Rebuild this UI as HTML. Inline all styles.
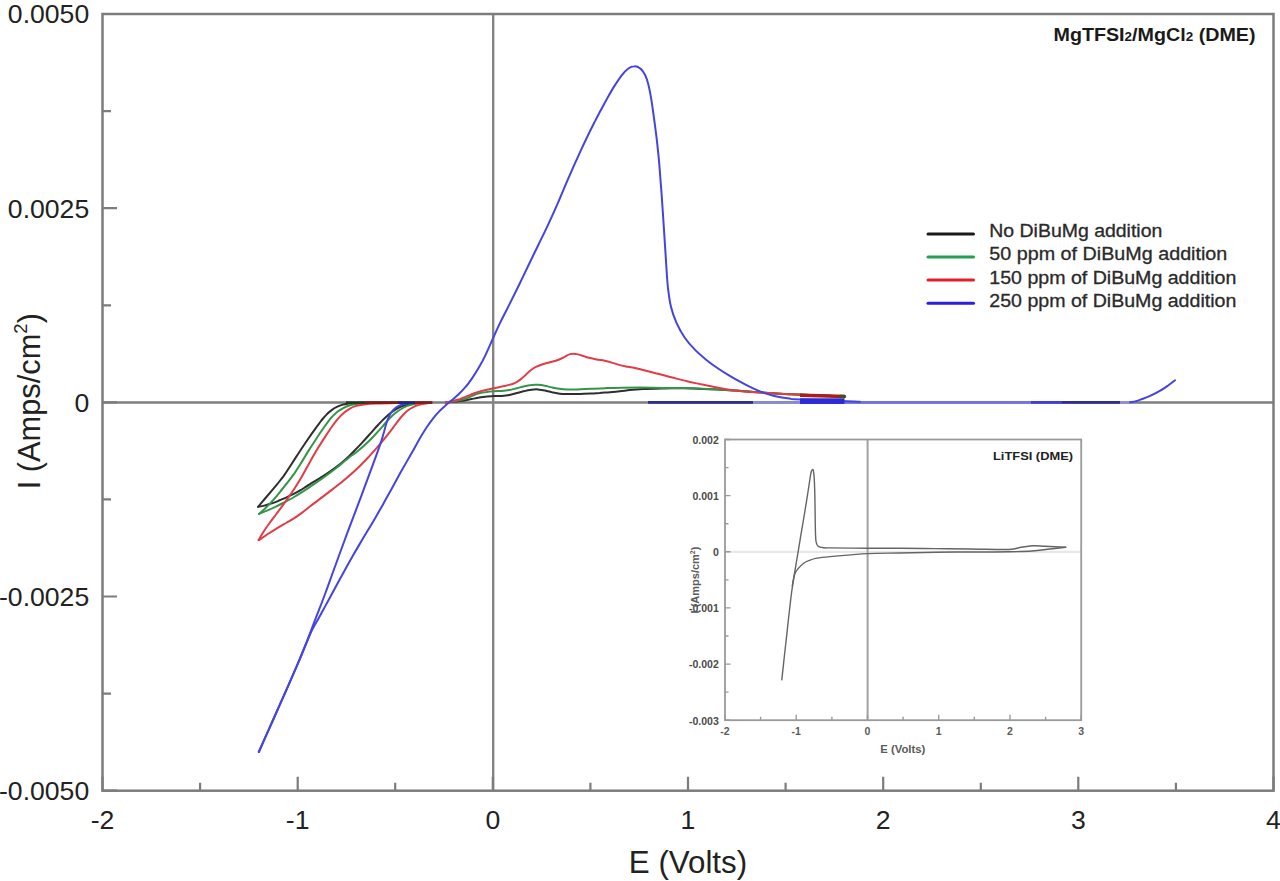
<!DOCTYPE html>
<html><head><meta charset="utf-8"><title>Cyclic voltammetry</title>
<style>html,body{margin:0;padding:0;background:#fff;}body{width:1280px;height:881px;overflow:hidden;}svg{display:block;}</style>
</head><body>
<svg width="1280" height="881" viewBox="0 0 1280 881">
<rect x="0" y="0" width="1280" height="881" fill="#fff"/>
<line x1="102.5" y1="402.5" x2="1273.5" y2="402.5" stroke="#7e7e7e" stroke-width="2.4"/>
<line x1="493.2" y1="14.0" x2="493.2" y2="790.7" stroke="#848484" stroke-width="2.4"/>
<line x1="648" y1="402.4" x2="753" y2="402.4" stroke="#2e2e90" stroke-width="2.8"/>
<line x1="753" y1="402.4" x2="800" y2="402.4" stroke="#8a8ad0" stroke-width="2.8"/>
<line x1="800" y1="402.4" x2="844" y2="402.4" stroke="#2a2ae0" stroke-width="2.8"/>
<line x1="844" y1="402.4" x2="1031" y2="402.4" stroke="#7272e6" stroke-width="2.8"/>
<line x1="1031" y1="402.4" x2="1062" y2="402.4" stroke="#3c3ce2" stroke-width="2.8"/>
<line x1="1062" y1="402.4" x2="1120" y2="402.4" stroke="#2e2e90" stroke-width="2.8"/>
<line x1="1120" y1="402.4" x2="1136" y2="402.4" stroke="#9090d4" stroke-width="2.8"/>
<path d="M258.1,506.8 C259.3,505.4 262.8,501.2 265.1,498.5 C267.4,495.8 269.6,493.2 271.8,490.6 C273.9,488.1 275.9,485.7 277.9,483.3 C279.8,480.9 281.4,478.9 283.4,476.3 C285.3,473.6 287.1,470.9 289.5,467.2 C291.9,463.5 295.0,458.7 297.9,454.2 C300.8,449.7 304.3,444.5 307.2,440.2 C310.1,436.0 313.0,431.9 315.4,428.6 C317.7,425.4 319.5,422.9 321.3,420.6 C323.1,418.4 324.3,416.8 326.0,415.1 C327.6,413.4 329.4,411.8 331.3,410.4 C333.2,408.9 335.4,407.6 337.4,406.7 C339.5,405.7 341.4,405.0 343.7,404.4 C345.9,403.9 347.8,403.5 350.9,403.2 C354.1,403.0 356.6,402.8 362.5,402.7 C368.4,402.6 375.8,402.6 386.2,402.5 C396.7,402.5 418.5,402.5 425.0,402.5" fill="none" stroke="#2e2e2e" stroke-width="2.0" stroke-linejoin="round" stroke-linecap="round"/>
<path d="M258.1,506.8 C259.3,506.6 262.8,506.0 265.1,505.4 C267.4,504.9 269.5,504.1 271.8,503.4 C274.0,502.6 276.0,501.8 278.4,500.8 C280.8,499.9 283.4,498.7 286.0,497.6 C288.6,496.4 291.4,495.1 293.7,493.9 C296.1,492.7 298.1,491.7 300.1,490.4 C302.2,489.2 304.1,487.9 306.2,486.6 C308.4,485.2 310.7,483.8 313.2,482.2 C315.7,480.7 318.4,479.1 321.1,477.4 C323.9,475.6 326.9,473.7 329.5,471.8 C332.2,470.0 334.8,468.1 337.1,466.3 C339.5,464.5 341.6,462.8 343.7,460.9 C345.8,459.1 347.9,457.2 350.0,455.2 C352.1,453.2 354.1,451.1 356.2,448.9 C358.3,446.8 360.3,444.6 362.4,442.4 C364.5,440.1 366.5,437.9 368.6,435.5 C370.8,433.1 373.0,430.5 375.2,428.1 C377.5,425.6 379.9,422.9 382.2,420.6 C384.4,418.3 386.6,416.2 388.7,414.4 C390.9,412.5 392.9,411.1 395.0,409.8 C397.1,408.4 399.1,407.4 401.2,406.5 C403.3,405.7 405.3,405.1 407.4,404.5 C409.6,404.0 411.6,403.6 414.1,403.3 C416.6,403.0 419.2,402.8 422.2,402.7 C425.2,402.6 430.4,402.5 432.0,402.5" fill="none" stroke="#2e2e2e" stroke-width="2.0" stroke-linejoin="round" stroke-linecap="round"/>
<path d="M446.0,402.5 C447.8,402.3 453.6,401.7 456.8,401.4 C459.9,401.0 462.3,400.8 464.8,400.4 C467.2,400.0 469.2,399.6 471.6,399.1 C473.9,398.6 476.6,397.9 479.1,397.5 C481.7,397.0 484.3,396.6 486.7,396.4 C489.2,396.1 491.4,396.2 493.9,396.1 C496.4,396.1 499.1,396.2 501.7,395.9 C504.3,395.7 507.0,395.4 509.5,394.9 C512.0,394.4 514.4,393.7 516.9,393.0 C519.4,392.4 521.9,391.6 524.3,391.1 C526.7,390.5 529.0,390.0 531.3,389.7 C533.6,389.4 535.7,389.3 538.0,389.4 C540.2,389.6 542.6,390.0 545.0,390.5 C547.4,391.0 549.9,391.8 552.4,392.4 C554.9,392.9 557.2,393.4 559.9,393.7 C562.6,394.0 565.3,393.9 568.7,394.0 C572.1,394.0 576.5,394.0 580.2,393.9 C583.8,393.8 587.6,393.8 590.8,393.6 C594.1,393.5 596.5,393.2 599.7,393.0 C602.8,392.7 606.5,392.5 609.8,392.2 C613.2,391.9 616.6,391.6 619.9,391.2 C623.2,390.9 625.8,390.5 629.8,390.1 C633.7,389.7 637.7,389.4 643.4,389.1 C649.0,388.8 656.5,388.6 663.4,388.4 C670.4,388.3 678.4,388.3 684.9,388.3 C691.4,388.4 696.9,388.6 702.5,388.9 C708.1,389.1 712.9,389.3 718.4,389.6 C723.9,389.9 729.6,390.2 735.5,390.6 C741.3,391.0 747.6,391.5 753.7,391.9 C759.9,392.3 766.2,392.8 772.5,393.2 C778.7,393.6 785.0,393.9 791.2,394.2 C797.5,394.5 803.9,394.8 810.0,395.1 C816.1,395.4 822.2,395.6 827.9,395.8 C833.6,396.0 841.5,396.3 844.2,396.4" fill="none" stroke="#2e2e2e" stroke-width="2.0" stroke-linejoin="round" stroke-linecap="round"/>
<path d="M259.1,513.9 C260.2,512.9 263.3,510.3 265.6,508.0 C267.9,505.8 270.4,503.2 272.9,500.4 C275.4,497.6 278.0,494.4 280.5,491.3 C283.0,488.2 285.6,485.0 288.0,481.9 C290.3,478.9 292.5,476.1 294.6,473.1 C296.6,470.1 298.4,467.3 300.6,463.8 C302.7,460.3 305.1,456.3 307.7,452.1 C310.3,447.9 313.5,442.9 316.3,438.7 C319.1,434.4 322.1,430.0 324.6,426.5 C327.1,423.0 329.2,420.1 331.3,417.6 C333.4,415.1 335.4,413.4 337.4,411.7 C339.5,410.1 341.6,408.9 343.7,407.8 C345.8,406.7 347.7,406.0 349.9,405.3 C352.1,404.6 354.1,404.2 356.8,403.9 C359.6,403.5 361.4,403.3 366.6,403.1 C371.7,402.9 377.8,402.8 387.5,402.7 C397.2,402.6 418.8,402.5 425.0,402.5" fill="none" stroke="#34954a" stroke-width="2.0" stroke-linejoin="round" stroke-linecap="round"/>
<path d="M259.1,513.9 C260.5,513.3 264.8,511.6 267.5,510.4 C270.2,509.2 272.7,508.1 275.4,506.8 C278.2,505.5 281.2,504.0 284.1,502.5 C287.1,500.9 290.3,499.2 293.3,497.5 C296.2,495.8 298.7,494.3 301.9,492.2 C305.1,490.2 308.6,487.8 312.5,485.2 C316.4,482.6 321.1,479.3 325.0,476.5 C328.9,473.7 332.8,470.8 335.9,468.3 C339.1,465.9 341.5,463.7 343.8,461.8 C346.2,459.9 347.9,458.4 349.9,456.8 C352.0,455.3 353.7,454.2 356.1,452.4 C358.4,450.5 361.0,448.5 363.9,445.8 C366.9,443.1 370.6,439.4 373.7,436.2 C376.7,433.1 379.6,429.7 382.2,426.9 C384.7,424.1 386.6,421.6 388.7,419.3 C390.9,417.1 392.9,415.1 395.0,413.3 C397.1,411.6 399.1,410.2 401.2,409.0 C403.3,407.7 405.3,406.7 407.4,405.9 C409.6,405.1 411.6,404.4 414.1,403.9 C416.6,403.5 419.2,403.2 422.2,402.9 C425.2,402.7 430.4,402.6 432.0,402.5" fill="none" stroke="#34954a" stroke-width="2.0" stroke-linejoin="round" stroke-linecap="round"/>
<path d="M446.0,402.5 C447.8,402.2 453.7,401.4 456.9,400.8 C460.1,400.2 462.8,399.6 465.2,398.8 C467.6,398.0 469.7,397.0 471.5,396.2 C473.4,395.4 474.8,394.7 476.4,394.1 C477.9,393.6 479.3,393.3 481.0,392.9 C482.8,392.5 484.8,392.1 487.0,391.9 C489.1,391.6 491.5,391.4 493.9,391.2 C496.4,391.0 499.1,391.1 501.7,390.9 C504.3,390.7 507.0,390.4 509.5,390.0 C512.0,389.6 514.4,388.8 516.9,388.2 C519.4,387.6 521.9,386.8 524.3,386.3 C526.7,385.7 529.0,385.2 531.3,385.0 C533.6,384.7 535.7,384.7 538.0,384.8 C540.2,384.9 542.6,385.3 545.0,385.8 C547.4,386.2 549.3,387.0 552.4,387.6 C555.5,388.2 559.4,389.0 563.6,389.3 C567.8,389.6 572.9,389.6 577.5,389.5 C582.1,389.4 586.5,389.0 591.3,388.8 C596.2,388.5 601.5,388.3 606.5,388.1 C611.5,387.9 615.7,387.8 621.3,387.7 C626.9,387.6 633.0,387.6 640.0,387.6 C647.1,387.7 655.9,387.8 663.4,387.9 C670.9,388.0 678.4,388.0 684.9,388.1 C691.4,388.3 696.9,388.4 702.5,388.7 C708.1,388.9 712.9,389.2 718.4,389.5 C723.9,389.8 729.6,390.2 735.5,390.6 C741.3,391.0 747.6,391.5 753.7,391.9 C759.9,392.3 766.2,392.8 772.5,393.2 C778.7,393.6 785.0,393.9 791.2,394.2 C797.5,394.5 803.9,394.8 810.0,395.1 C816.1,395.4 822.2,395.6 827.9,395.8 C833.6,396.0 841.5,396.3 844.2,396.4" fill="none" stroke="#34954a" stroke-width="2.0" stroke-linejoin="round" stroke-linecap="round"/>
<path d="M258.5,540.0 C259.4,538.6 261.9,534.2 263.7,531.5 C265.4,528.8 267.2,526.3 268.9,524.0 C270.6,521.6 272.2,519.5 273.8,517.4 C275.5,515.2 277.1,512.9 278.7,510.9 C280.2,508.8 281.6,506.9 283.1,504.8 C284.7,502.7 286.1,500.8 287.9,498.1 C289.8,495.5 292.0,492.3 294.2,489.0 C296.4,485.7 298.7,482.1 301.0,478.1 C303.3,474.2 305.4,470.0 308.0,465.5 C310.5,460.9 313.5,455.5 316.3,450.8 C319.1,446.2 322.1,441.4 324.6,437.6 C327.1,433.7 329.2,430.5 331.3,427.5 C333.4,424.5 335.4,421.9 337.4,419.4 C339.5,417.0 341.6,414.8 343.7,413.0 C345.8,411.2 347.8,409.8 349.9,408.6 C352.0,407.4 353.8,406.6 356.2,405.9 C358.5,405.2 360.6,404.9 364.0,404.5 C367.3,404.1 370.9,403.8 376.3,403.6 C381.7,403.3 388.4,403.1 396.5,402.9 C404.6,402.7 420.2,402.6 425.0,402.5" fill="none" stroke="#e23c46" stroke-width="2.0" stroke-linejoin="round" stroke-linecap="round"/>
<path d="M258.8,540.3 C260.4,539.2 265.5,535.6 268.6,533.5 C271.7,531.5 274.7,529.7 277.6,527.9 C280.5,526.1 283.3,524.6 286.1,523.0 C288.9,521.3 291.7,519.8 294.3,518.1 C297.0,516.4 299.5,514.5 302.1,512.6 C304.8,510.6 307.3,508.5 310.2,506.3 C313.1,504.1 316.1,501.7 319.6,499.1 C323.1,496.5 327.1,493.5 331.1,490.4 C335.1,487.4 339.5,484.1 343.6,480.6 C347.8,477.1 352.2,473.3 356.2,469.5 C360.1,465.8 364.1,461.7 367.4,458.2 C370.7,454.8 373.4,451.6 375.9,448.8 C378.4,446.0 380.3,443.7 382.5,441.2 C384.6,438.6 386.6,436.1 388.7,433.4 C390.8,430.8 392.9,427.8 395.0,425.0 C397.1,422.3 399.1,419.4 401.2,417.0 C403.3,414.6 405.3,412.5 407.4,410.8 C409.5,409.0 411.6,407.8 413.7,406.8 C415.8,405.7 417.9,405.2 419.9,404.6 C422.0,404.1 424.1,403.8 426.1,403.5 C428.1,403.1 431.0,402.7 432.0,402.5" fill="none" stroke="#e23c46" stroke-width="2.0" stroke-linejoin="round" stroke-linecap="round"/>
<path d="M446.0,402.5 C447.2,402.2 451.2,401.4 453.4,400.9 C455.7,400.3 457.6,399.7 459.6,399.1 C461.6,398.4 463.3,397.6 465.2,396.9 C467.1,396.1 469.0,395.3 470.8,394.6 C472.6,393.9 474.1,393.2 475.8,392.7 C477.4,392.1 479.0,391.6 480.9,391.1 C482.7,390.6 484.8,390.2 487.0,389.7 C489.2,389.2 491.5,388.7 493.9,388.2 C496.4,387.7 499.2,387.1 501.7,386.6 C504.2,386.0 506.9,385.6 509.1,384.9 C511.4,384.3 513.3,383.7 515.2,382.8 C517.1,381.9 518.9,380.7 520.6,379.4 C522.3,378.1 524.0,376.4 525.6,374.9 C527.2,373.4 528.7,371.8 530.4,370.5 C532.1,369.1 533.9,367.9 535.9,366.9 C538.0,365.8 540.3,365.0 542.7,364.2 C545.2,363.4 548.1,362.8 550.7,362.0 C553.4,361.3 556.3,360.6 558.6,359.7 C560.9,358.9 562.7,357.7 564.6,356.8 C566.5,355.8 568.0,354.6 570.0,354.1 C571.9,353.6 573.9,353.6 576.0,353.9 C578.1,354.1 580.3,355.1 582.5,355.8 C584.7,356.4 586.8,357.2 589.1,357.8 C591.5,358.4 593.9,358.9 596.5,359.4 C599.1,359.9 602.1,360.2 604.7,360.7 C607.3,361.2 609.7,361.9 612.0,362.6 C614.4,363.3 616.7,364.3 619.0,364.9 C621.4,365.6 623.7,366.0 626.0,366.4 C628.3,366.8 630.1,367.0 632.8,367.6 C635.4,368.1 638.2,368.9 642.0,369.8 C645.8,370.7 650.7,371.9 655.6,373.2 C660.5,374.4 666.1,376.0 671.3,377.3 C676.5,378.6 681.7,380.0 686.9,381.2 C692.1,382.4 697.5,383.5 702.5,384.6 C707.5,385.7 712.6,386.8 717.1,387.6 C721.6,388.5 725.5,389.2 729.4,389.8 C733.4,390.4 736.6,390.7 740.9,391.2 C745.1,391.6 749.7,391.9 755.0,392.2 C760.2,392.6 766.4,393.0 772.5,393.3 C778.5,393.7 785.0,394.0 791.2,394.3 C797.5,394.6 803.9,394.9 810.0,395.1 C816.1,395.4 822.2,395.6 827.9,395.8 C833.6,396.0 841.5,396.3 844.2,396.4" fill="none" stroke="#e23c46" stroke-width="2.0" stroke-linejoin="round" stroke-linecap="round"/>
<path d="M415.0,402.7 C413.8,402.8 410.0,403.0 407.8,403.3 C405.5,403.7 403.4,404.0 401.5,404.7 C399.6,405.4 397.9,406.2 396.3,407.3 C394.8,408.5 393.4,409.8 392.1,411.4 C390.9,412.9 389.8,414.7 388.9,416.6 C387.9,418.6 387.2,420.9 386.4,423.3 C385.6,425.7 385.0,428.3 384.2,431.2 C383.3,434.2 382.6,437.2 381.4,440.9 C380.2,444.5 378.7,448.5 377.1,453.1 C375.4,457.7 373.5,462.9 371.5,468.4 C369.5,473.8 367.2,480.0 365.0,485.9 C362.8,491.9 360.5,498.1 358.2,504.1 C355.9,510.2 353.7,515.9 351.4,522.2 C349.0,528.5 346.6,534.8 344.0,542.0 C341.3,549.2 338.1,558.0 335.4,565.5 C332.6,573.0 329.7,581.3 327.6,587.1 C325.4,593.0 324.1,596.7 322.6,600.5 C321.2,604.4 320.2,606.8 318.9,610.1 C317.6,613.4 316.3,616.7 314.9,620.4 C313.5,624.1 312.1,628.0 310.5,632.2 C308.9,636.4 307.3,640.6 305.3,645.5 C303.4,650.4 301.3,655.5 298.7,661.7 C296.1,667.8 292.9,675.1 289.7,682.4 C286.5,689.8 282.9,697.9 279.4,705.6 C276.0,713.4 272.5,721.1 269.1,728.9 C265.6,736.6 260.5,748.1 258.8,752.0" fill="none" stroke="#4444e2" stroke-width="2.0" stroke-linejoin="round" stroke-linecap="round"/>
<path d="M258.8,752.0 C260.5,748.1 265.6,736.6 269.1,728.9 C272.5,721.1 276.0,713.4 279.4,705.6 C282.9,697.9 286.5,689.8 289.7,682.4 C292.9,675.1 296.1,667.8 298.7,661.7 C301.3,655.5 303.4,650.2 305.3,645.6 C307.3,640.9 308.9,636.9 310.4,633.5 C312.0,630.1 313.2,627.8 314.6,625.3 C315.9,622.8 317.0,621.2 318.4,618.7 C319.8,616.2 321.4,613.3 323.0,610.3 C324.7,607.3 326.2,604.4 328.2,600.7 C330.2,597.1 332.2,593.4 334.8,588.5 C337.5,583.6 340.9,577.2 344.1,571.5 C347.2,565.8 350.6,559.8 353.7,554.3 C356.8,548.8 359.8,544.0 362.9,538.6 C366.1,533.2 369.6,527.6 372.9,522.0 C376.1,516.4 379.5,510.6 382.7,504.9 C385.9,499.2 389.2,493.2 392.1,487.9 C395.1,482.5 398.0,477.2 400.5,472.6 C403.1,468.1 405.2,464.3 407.4,460.5 C409.6,456.6 411.6,453.1 413.7,449.5 C415.8,445.8 417.8,441.9 419.9,438.3 C422.0,434.7 424.1,431.2 426.2,428.0 C428.2,424.9 430.3,422.0 432.4,419.3 C434.4,416.7 436.4,414.3 438.5,412.1 C440.6,409.8 442.8,407.8 445.0,405.9 C447.2,403.9 449.5,402.2 451.8,400.2 C454.0,398.3 456.3,396.5 458.6,394.3 C460.9,392.1 463.1,389.8 465.4,387.2 C467.7,384.5 469.9,381.4 472.2,378.1 C474.5,374.8 476.7,371.3 479.0,367.3 C481.3,363.4 483.5,359.3 485.7,354.6 C488.0,350.0 490.1,344.8 492.5,339.4 C494.9,334.1 497.4,328.4 500.2,322.6 C503.0,316.8 506.2,310.9 509.3,304.6 C512.4,298.4 515.7,291.8 518.9,285.2 C522.1,278.6 525.4,271.6 528.6,265.0 C531.8,258.3 535.0,251.8 538.2,245.2 C541.4,238.6 544.6,232.3 547.8,225.4 C551.0,218.5 554.4,211.0 557.5,203.9 C560.6,196.8 563.7,189.2 566.4,182.9 C569.1,176.6 571.4,171.3 573.7,166.1 C576.1,160.8 578.2,156.2 580.4,151.3 C582.7,146.4 585.0,141.4 587.3,136.7 C589.6,131.9 591.8,127.5 594.1,123.0 C596.4,118.6 598.6,114.3 600.9,110.1 C603.2,105.8 605.4,101.5 607.7,97.5 C610.0,93.4 612.2,89.5 614.5,85.9 C616.8,82.3 619.1,78.7 621.3,75.8 C623.5,73.0 625.8,70.4 628.0,68.8 C630.1,67.1 632.2,66.2 634.3,66.2 C636.3,66.1 638.4,66.9 640.2,68.4 C642.0,69.8 643.7,72.2 645.1,75.0 C646.5,77.8 647.5,81.0 648.5,85.0 C649.5,89.1 650.4,93.9 651.3,99.4 C652.2,104.9 653.1,111.5 654.0,118.1 C654.9,124.7 655.8,131.3 656.7,138.8 C657.5,146.3 658.4,153.9 659.2,163.2 C660.0,172.4 660.8,183.3 661.6,194.1 C662.4,204.9 663.1,217.1 663.9,228.2 C664.6,239.3 665.3,250.9 666.0,260.8 C666.6,270.7 667.1,279.8 667.9,287.4 C668.8,295.1 669.5,300.6 670.9,306.5 C672.3,312.4 674.1,317.4 676.4,322.6 C678.7,327.8 681.7,333.1 684.8,337.7 C687.9,342.2 691.5,346.2 695.1,349.9 C698.7,353.6 702.6,356.8 706.4,359.9 C710.2,363.0 714.3,365.9 718.1,368.5 C721.9,371.1 725.6,373.4 729.4,375.7 C733.2,378.0 737.0,380.2 740.9,382.2 C744.7,384.3 748.9,386.5 752.6,388.2 C756.3,390.0 759.8,391.4 763.1,392.6 C766.4,393.8 769.4,394.7 772.5,395.5 C775.6,396.3 778.8,397.1 781.9,397.6 C785.0,398.2 787.7,398.5 791.2,398.9 C794.7,399.2 798.0,399.3 802.9,399.5 C807.9,399.7 814.3,399.9 820.8,400.1 C827.3,400.4 835.3,400.6 841.8,400.9 C848.4,401.1 857.0,401.6 860.0,401.7" fill="none" stroke="#4444e2" stroke-width="2.0" stroke-linejoin="round" stroke-linecap="round"/>
<path d="M1130.0,402.3 C1131.0,402.1 1134.0,401.8 1136.0,401.2 C1138.0,400.6 1139.9,399.8 1142.0,399.0 C1144.1,398.2 1145.5,398.0 1148.4,396.7 C1151.3,395.4 1156.0,393.2 1159.4,391.2 C1162.8,389.3 1166.2,386.8 1168.8,385.0 C1171.3,383.2 1174.0,381.1 1175.0,380.3" fill="none" stroke="#4444e2" stroke-width="2.0" stroke-linejoin="round" stroke-linecap="round"/>
<line x1="346" y1="402.6" x2="365" y2="402.6" stroke="#1f3a22" stroke-width="2.6"/>
<line x1="365" y1="402.6" x2="398" y2="402.6" stroke="#7e1c1c" stroke-width="2.6"/>
<line x1="398" y1="402.6" x2="415" y2="402.6" stroke="#22227e" stroke-width="2.6"/>
<line x1="415" y1="402.6" x2="432" y2="402.6" stroke="#7e1c1c" stroke-width="2.6"/>
<rect x="800" y="398.3" width="44.5" height="5.4" fill="#2a2ad6"/>
<path d="M800,395.2 L820,395.8 L844.5,396.5" stroke="#ab1c1c" stroke-width="3.6" fill="none"/>
<path d="M840,396.4 L844.5,396.5" stroke="#4a4a22" stroke-width="3.4" fill="none" stroke-linecap="round"/>
<rect x="102.5" y="14.0" width="1171.0" height="776.7" fill="none" stroke="#7c7c7c" stroke-width="2.5"/>
<path d="M102.5,14.0h14.5 M102.5,111.1h8.5 M102.5,208.2h14.5 M102.5,305.3h8.5 M102.5,402.4h14.5 M102.5,499.4h8.5 M102.5,596.5h14.5 M102.5,693.6h8.5 M102.5,790.7h14.5 M102.5,790.7v-14 M200.1,790.7v-8 M297.7,790.7v-14 M395.2,790.7v-8 M492.8,790.7v-14 M590.4,790.7v-8 M688.0,790.7v-14 M785.6,790.7v-8 M883.2,790.7v-14 M980.8,790.7v-8 M1078.3,790.7v-14 M1175.9,790.7v-8 M1273.5,790.7v-14" stroke="#7c7c7c" stroke-width="2.2" fill="none"/>
<text x="89.2" y="23.3" font-family="Liberation Sans, sans-serif" font-size="26.6" fill="#222" text-anchor="end">0.0050</text>
<text x="89.2" y="217.5" font-family="Liberation Sans, sans-serif" font-size="26.6" fill="#222" text-anchor="end">0.0025</text>
<text x="89.2" y="411.7" font-family="Liberation Sans, sans-serif" font-size="26.6" fill="#222" text-anchor="end">0</text>
<text x="89.2" y="605.8" font-family="Liberation Sans, sans-serif" font-size="26.6" fill="#222" text-anchor="end">-0.0025</text>
<text x="89.2" y="800.0" font-family="Liberation Sans, sans-serif" font-size="26.6" fill="#222" text-anchor="end">-0.0050</text>
<text x="102.5" y="829.3" font-family="Liberation Sans, sans-serif" font-size="26.6" fill="#222" text-anchor="middle">-2</text>
<text x="297.7" y="829.3" font-family="Liberation Sans, sans-serif" font-size="26.6" fill="#222" text-anchor="middle">-1</text>
<text x="492.8" y="829.3" font-family="Liberation Sans, sans-serif" font-size="26.6" fill="#222" text-anchor="middle">0</text>
<text x="688.0" y="829.3" font-family="Liberation Sans, sans-serif" font-size="26.6" fill="#222" text-anchor="middle">1</text>
<text x="883.2" y="829.3" font-family="Liberation Sans, sans-serif" font-size="26.6" fill="#222" text-anchor="middle">2</text>
<text x="1078.3" y="829.3" font-family="Liberation Sans, sans-serif" font-size="26.6" fill="#222" text-anchor="middle">3</text>
<text x="1273.5" y="829.3" font-family="Liberation Sans, sans-serif" font-size="26.6" fill="#222" text-anchor="middle">4</text>
<text x="688" y="872.6" font-family="Liberation Sans, sans-serif" font-size="31.3" fill="#222" text-anchor="middle">E (Volts)</text>
<text transform="translate(39.5,401.2) rotate(-90)" font-family="Liberation Sans, sans-serif" font-size="30.8" fill="#222" text-anchor="middle">I (Amps/cm<tspan font-size="18.5" dy="-12.5">2</tspan><tspan dy="12.5">)</tspan></text>
<text x="1053.5" y="41" font-family="Liberation Sans, sans-serif" font-weight="bold" font-size="17.6" fill="#1a1a1a" textLength="202" lengthAdjust="spacingAndGlyphs">MgTFSI<tspan font-size="12">2</tspan>/MgCl<tspan font-size="12">2</tspan> (DME)</text>
<line x1="928" y1="233.9" x2="973.5" y2="233.9" stroke="#1a1a1a" stroke-width="3" stroke-linecap="round"/>
<text x="989.3" y="237.3" font-family="Liberation Sans, sans-serif" font-size="18" fill="#2a2a2a" stroke="#2a2a2a" stroke-width="0.3" textLength="173" lengthAdjust="spacingAndGlyphs">No DiBuMg addition</text>
<line x1="928" y1="257.0" x2="973.5" y2="257.0" stroke="#20a050" stroke-width="3" stroke-linecap="round"/>
<text x="989.3" y="260.4" font-family="Liberation Sans, sans-serif" font-size="18" fill="#2a2a2a" stroke="#2a2a2a" stroke-width="0.3" textLength="238" lengthAdjust="spacingAndGlyphs">50 ppm of DiBuMg addition</text>
<line x1="928" y1="280.1" x2="973.5" y2="280.1" stroke="#e2202a" stroke-width="3" stroke-linecap="round"/>
<text x="989.3" y="283.5" font-family="Liberation Sans, sans-serif" font-size="18" fill="#2a2a2a" stroke="#2a2a2a" stroke-width="0.3" textLength="247" lengthAdjust="spacingAndGlyphs">150 ppm of DiBuMg addition</text>
<line x1="928" y1="303.2" x2="973.5" y2="303.2" stroke="#2c1ee0" stroke-width="3" stroke-linecap="round"/>
<text x="989.3" y="306.6" font-family="Liberation Sans, sans-serif" font-size="18" fill="#2a2a2a" stroke="#2a2a2a" stroke-width="0.3" textLength="247" lengthAdjust="spacingAndGlyphs">250 ppm of DiBuMg addition</text>
<rect x="725.0" y="439.5" width="356.20000000000005" height="280.70000000000005" fill="#fff" stroke="none"/>
<line x1="725.0" y1="551.8" x2="1081.2" y2="551.8" stroke="#e8e8e8" stroke-width="2.2"/>
<line x1="867.6" y1="439.5" x2="867.6" y2="720.2" stroke="#a2a2a2" stroke-width="2.0"/>
<path d="M781.8,679.8 C782.2,675.7 783.6,663.2 784.5,655.0 C785.4,646.8 786.4,638.3 787.2,630.8 C788.0,623.3 788.7,616.6 789.5,610.0 C790.3,603.4 790.9,597.3 791.8,591.0 C792.7,584.7 793.7,578.2 794.7,572.1 C795.7,566.0 796.7,560.3 797.7,554.4 C798.7,548.5 799.6,542.6 800.6,536.7 C801.6,530.8 802.6,524.9 803.6,519.0 C804.6,513.1 805.6,506.7 806.5,501.3 C807.4,495.9 808.2,490.6 808.8,486.5 C809.4,482.4 809.9,479.1 810.3,476.5 C810.7,473.9 811.0,472.3 811.4,471.2 C811.8,470.1 812.1,469.7 812.4,469.6 C812.7,469.5 813.1,469.4 813.4,470.8 C813.7,472.2 814.0,474.8 814.2,478.0 C814.4,481.2 814.6,484.4 814.7,490.0 C814.9,495.6 815.0,504.3 815.1,511.6 C815.2,518.9 815.3,528.6 815.5,533.7 C815.7,538.8 815.7,540.2 816.2,542.3 C816.7,544.4 817.0,545.4 818.3,546.3 C819.6,547.2 822.2,547.5 824.2,547.8 C826.2,548.1 822.7,547.8 830.0,547.9 C837.3,548.0 856.3,548.1 868.0,548.2 C879.7,548.3 888.8,548.2 900.0,548.3 C911.2,548.4 923.3,548.5 935.0,548.6 C946.7,548.7 957.7,548.9 970.0,549.0 C982.3,549.1 1000.7,549.8 1009.0,549.5 C1017.3,549.2 1016.1,548.1 1020.0,547.5 C1023.9,546.9 1028.3,546.0 1032.5,545.8 C1036.7,545.6 1039.5,546.0 1045.0,546.3 C1050.5,546.5 1062.2,547.1 1065.7,547.3" fill="none" stroke="#646464" stroke-width="1.4" stroke-linejoin="round" stroke-linecap="round"/>
<path d="M792.3,586.0 C792.5,585.0 792.8,582.1 793.3,580.0 C793.8,577.9 794.3,575.3 795.0,573.5 C795.7,571.7 796.3,570.8 797.7,569.1 C799.1,567.4 801.6,564.7 803.6,563.2 C805.6,561.7 807.3,561.1 809.5,560.3 C811.7,559.4 813.5,558.7 816.9,558.1 C820.3,557.5 824.4,557.1 830.0,556.6 C835.6,556.1 844.5,555.4 850.8,554.9 C857.1,554.4 859.8,553.9 868.0,553.6 C876.2,553.3 888.8,553.2 900.0,553.0 C911.2,552.8 923.3,552.4 935.0,552.2 C946.7,552.0 957.7,552.1 970.0,552.0 C982.3,551.9 998.7,552.0 1009.0,551.8 C1019.3,551.6 1025.2,551.5 1032.0,551.0 C1038.8,550.5 1044.4,549.6 1050.0,549.0 C1055.6,548.4 1063.1,547.6 1065.7,547.3" fill="none" stroke="#646464" stroke-width="1.4" stroke-linejoin="round" stroke-linecap="round"/>
<rect x="725.0" y="439.5" width="356.20000000000005" height="280.70000000000005" fill="none" stroke="#9a9a9a" stroke-width="1.8"/>
<path d="M725.0,439.5h5.5 M725.0,467.6h3.5 M725.0,495.6h5.5 M725.0,523.7h3.5 M725.0,551.8h5.5 M725.0,579.9h3.5 M725.0,607.9h5.5 M725.0,636.0h3.5 M725.0,664.1h5.5 M725.0,692.1h3.5 M725.0,720.2h5.5 M725.0,720.2v-5.5 M760.6,720.2v-3.5 M796.2,720.2v-5.5 M831.9,720.2v-3.5 M867.5,720.2v-5.5 M903.1,720.2v-3.5 M938.7,720.2v-5.5 M974.3,720.2v-3.5 M1010.0,720.2v-5.5 M1045.6,720.2v-3.5 M1081.2,720.2v-5.5" stroke="#9a9a9a" stroke-width="1.4" fill="none"/>
<text x="718.8" y="443.8" font-family="Liberation Sans, sans-serif" font-size="10.5" font-weight="bold" fill="#4a4a4a" text-anchor="end">0.002</text>
<text x="718.8" y="499.9" font-family="Liberation Sans, sans-serif" font-size="10.5" font-weight="bold" fill="#4a4a4a" text-anchor="end">0.001</text>
<text x="718.8" y="556.1" font-family="Liberation Sans, sans-serif" font-size="10.5" font-weight="bold" fill="#4a4a4a" text-anchor="end">0</text>
<text x="718.8" y="612.2" font-family="Liberation Sans, sans-serif" font-size="10.5" font-weight="bold" fill="#4a4a4a" text-anchor="end">-0.001</text>
<text x="718.8" y="668.4" font-family="Liberation Sans, sans-serif" font-size="10.5" font-weight="bold" fill="#4a4a4a" text-anchor="end">-0.002</text>
<text x="718.8" y="724.5" font-family="Liberation Sans, sans-serif" font-size="10.5" font-weight="bold" fill="#4a4a4a" text-anchor="end">-0.003</text>
<text x="725.0" y="734.8" font-family="Liberation Sans, sans-serif" font-size="10.5" font-weight="bold" fill="#5a5a5a" text-anchor="middle">-2</text>
<text x="796.2" y="734.8" font-family="Liberation Sans, sans-serif" font-size="10.5" font-weight="bold" fill="#5a5a5a" text-anchor="middle">-1</text>
<text x="867.5" y="734.8" font-family="Liberation Sans, sans-serif" font-size="10.5" font-weight="bold" fill="#5a5a5a" text-anchor="middle">0</text>
<text x="938.7" y="734.8" font-family="Liberation Sans, sans-serif" font-size="10.5" font-weight="bold" fill="#5a5a5a" text-anchor="middle">1</text>
<text x="1010.0" y="734.8" font-family="Liberation Sans, sans-serif" font-size="10.5" font-weight="bold" fill="#5a5a5a" text-anchor="middle">2</text>
<text x="1081.2" y="734.8" font-family="Liberation Sans, sans-serif" font-size="10.5" font-weight="bold" fill="#5a5a5a" text-anchor="middle">3</text>
<text x="902.8" y="753.3" font-family="Liberation Sans, sans-serif" font-size="11.3" font-weight="bold" fill="#5a5a5a" text-anchor="middle">E (Volts)</text>
<text transform="translate(698.8,580) rotate(-90)" font-family="Liberation Sans, sans-serif" font-size="11" font-weight="bold" fill="#5a5a5a" text-anchor="middle">I (Amps/cm<tspan font-size="7" dy="-4">2</tspan><tspan dy="4">)</tspan></text>
<text x="993" y="460.2" font-family="Liberation Sans, sans-serif" font-weight="bold" font-size="11" fill="#222" textLength="80" lengthAdjust="spacingAndGlyphs">LiTFSI (DME)</text>
</svg>
</body></html>
